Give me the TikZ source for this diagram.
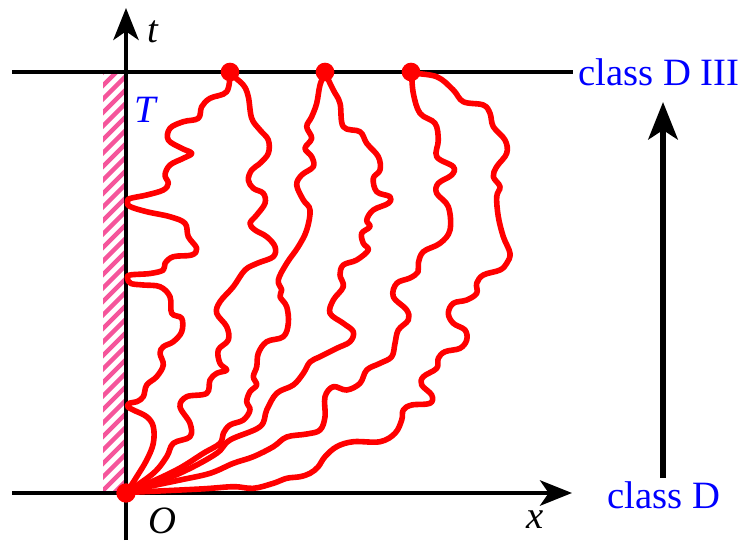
\documentclass[tikz,border=0pt]{standalone}
\usepackage{fontspec}
\setmainfont{Liberation Serif}
\usetikzlibrary{arrows.meta}
\definecolor{hatchpink}{RGB}{245,85,155}
\begin{document}
\begin{tikzpicture}[x=0.75pt,y=-0.75pt,
  axisline/.style={line width=3pt},
  axisarrow/.style={line width=3pt,-{Stealth[length=24pt,width=19pt,inset=6.5pt]}},
  bigarrow/.style={line width=4.5pt,-{Stealth[length=28pt,width=22pt,inset=7pt]}},
  path/.style={draw=red,line width=4.2pt,line cap=round,line join=round,smooth,tension=0.6},
  dot/.style={circle,fill=red,inner sep=0pt,minimum size=14pt},
  lbl/.style={font=\fontsize{29}{34}\selectfont,inner sep=0pt},
  cls/.style={lbl,text=blue}]
\useasboundingbox (0,0) rectangle (745,540);
% hatching
\begin{scope}
\clip (103,72) rectangle (125,493);
\foreach \i in {0,...,33} {
  \draw[hatchpink,line width=3.2pt] (100,{72+13.5*\i+3}) -- (128,{72+13.5*\i-25});
}
\end{scope}
% coordinates
\coordinate (Oo) at (126,493);
\coordinate (ybot) at (126,540);
\coordinate (ytop) at (126,8);
\coordinate (xl) at (12,493);
\coordinate (xr) at (572,493);
\coordinate (tl) at (12,72);
\coordinate (tr) at (573,72);
\coordinate (ab) at (663,478);
\coordinate (at) at (663,102);
% axes
\draw[axisarrow] (ybot) -- (ytop);
\draw[axisarrow] (xl) -- (xr);
\draw[axisline] (tl) -- (tr);
\draw[bigarrow] (ab) -- (at);
% labels
\node[lbl] (tlab) at (153,32) {\textit{t}};
\node[lbl,text=blue] (Tlab) at (146,110) {\textit{T}};
\node[lbl] (Olab) at (162,521) {\textit{O}};
\node[lbl] (xlab) at (535,520) {\textit{x}};
\node[cls] (c3) at (659,72) {class D III};
\node[cls] (c1) at (664,495) {class D};
% curves
% A
\draw[path] plot coordinates {(230,73) (226.7,91.7) (210,98.3) (201.7,106.7) (198.3,118.3) (183.3,121.7) (170,128.3) (168.3,140) (181.7,148.3) (191.7,153.3) (183.3,158.3) (170,165) (165,175) (168.3,183.3) (163.3,190) (146.7,195) (130,198.5) (127.5,202) (130,206.5) (146.7,211.7) (170,216.7) (185,223.3) (188.3,236.7) (196.7,248.3) (191.7,255) (173.3,256.7) (165,263.3) (163.3,270) (150,273.5) (130,275) (127.5,278.5) (131,283.5) (143.3,285) (160,286.7) (170,296.7) (171.7,313.3) (181.7,318.3) (181.7,331.7) (173.3,341.7) (163.3,346.7) (160,353.3) (163.3,365) (156.7,376.7) (146.7,385) (143.3,396.7) (136.7,401.7) (130,403) (127.5,406.5) (133.3,410) (146.7,416.7) (153.3,426.7) (153.3,443.3) (146.7,460) (136.7,476.7) (127,492)};
% B
\draw[path] plot coordinates {(231.7,75) (243.3,85) (248.3,96.7) (251.7,118.3) (260,130) (268.3,140) (268.3,153.3) (260,163.3) (251.7,170) (248.3,180) (253.3,188.3) (263.3,193.3) (265,203.3) (256.7,215) (250,223.3) (255,230) (266.7,236.7) (275,246.7) (273.3,256.7) (258,263) (245,270) (233.3,286.7) (220,301.7) (216.7,313.3) (226.7,326.7) (228.3,340) (218.3,350) (220,363.3) (226.7,370) (216.7,373.3) (210,380) (206.7,393.3) (186.7,396.7) (180,406.7) (190,423.3) (190,436.7) (173.3,443.3) (166.7,456.7) (153.3,473.3) (127,492)};
% C
\draw[path] plot coordinates {(325,73) (320,85) (316.7,103.3) (311.7,116.7) (306.7,126.7) (311.7,138.3) (305,148.3) (311.7,156.7) (313.3,166.7) (301.7,175) (296.7,185) (303.3,200) (310,210) (306.7,230) (298.3,246.7) (286.7,263.3) (278.3,280) (281.7,290) (280,296.7) (286.7,306.7) (288.3,323.3) (283.3,336.7) (266.7,341.7) (258.3,353.3) (256.7,366.7) (253.3,376.7) (256.7,385) (250,391.7) (246.7,401.7) (250,410) (243.3,420) (230,425) (223.3,433.3) (220,443.3) (203.3,453.3) (180,468) (153.3,481) (127,492)};
% D
\draw[path] plot coordinates {(325,73) (333.3,90) (340,103.3) (343.3,126.7) (360,131.7) (366.7,143.3) (378.3,156.7) (380,170) (373.3,178.3) (376.7,191.7) (390,196.7) (388.3,203.3) (373.3,210) (366.7,220) (370,226.7) (361.7,233.3) (363.3,243.3) (368.3,250) (356.7,260) (343.3,265) (340,275) (343.3,286.7) (333.3,300) (330,313.3) (343.3,323.3) (353.3,331.7) (350,341.7) (336.7,348.3) (320,356.7) (310,362) (303.3,373.3) (293.3,385) (276.7,393.3) (266.7,410) (260,426.7) (230,440) (216.7,453.3) (186.7,470) (153.3,484) (127,492)};
% E
\draw[path] plot coordinates {(411.7,73.3) (413.3,93.3) (420,113.3) (435,123.3) (438.3,140) (436.7,156.7) (453.3,166.7) (451.7,175) (438.3,183.3) (436.7,193.3) (448.3,206.7) (450,230) (440,243.3) (423.3,251.7) (418.3,263.3) (418,272) (410,278) (396.7,283.3) (393.3,296.7) (406.7,310) (408.3,320) (398.3,330) (395,343.3) (391.7,356.7) (380,363.3) (366.7,370) (360,383.3) (346.7,390) (333.3,386.7) (325,396.7) (325,416.7) (320,430) (306.7,434) (286.7,437) (273.3,446.7) (253.3,456.7) (233.3,463.3) (210,473.3) (180,480) (146.7,487) (127,492)};
% F
\draw[path] plot coordinates {(411.7,73.3) (436.7,76.7) (453.3,90) (463.3,101.7) (483.3,105) (490,113.3) (493.3,126.7) (505,140) (506.7,153.3) (496.7,166.7) (493.3,176.7) (500,186.7) (496.7,196.7) (498.3,216.7) (503.3,236.7) (510,253.3) (506.7,263.3) (500,270) (483.3,275) (476.7,283.3) (476.7,293.3) (466.7,300) (453.3,303.3) (448.3,313.3) (453.3,323.3) (465,330) (466.7,340) (460,348.3) (445,351.7) (438.3,358.3) (436.7,368.3) (423.3,376.7) (421.7,385) (431.7,395) (430,403.3) (411.7,405) (403.3,410) (401.7,420) (395,433.3) (380,441.7) (353.3,441.7) (336.7,446.7) (325,456.7) (318,467) (310,473.3) (300,476.7) (286.7,478.3) (273.3,483.3) (253.3,488.3) (233.3,486.7) (200,489) (127,492.5)};
% dots
\node[dot] (d1) at (230,72) {};
\node[dot] (d2) at (325,72) {};
\node[dot] (d3) at (411,72) {};
\node[dot,minimum size=14.5pt] (d0) at (Oo) {};
\end{tikzpicture}
\end{document}
